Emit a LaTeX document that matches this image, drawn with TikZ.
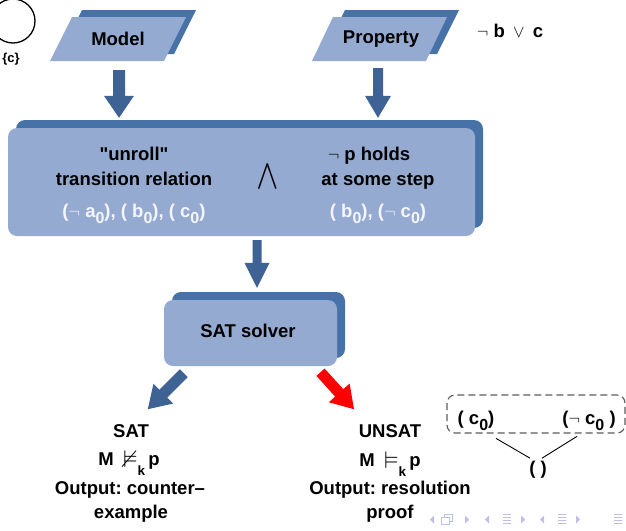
\documentclass[tikz,border=0pt]{standalone}
\usepackage{amssymb}
\usepackage{fontspec}
\setmainfont{Liberation Sans}[Ligatures=TeXOff]
\usetikzlibrary{calc,shadows}

\definecolor{boxfill}{RGB}{149,170,209}
\definecolor{boxshade}{RGB}{70,114,168}
\definecolor{arrowblue}{RGB}{62,98,148}
\definecolor{softwhite}{RGB}{244,246,252}
\definecolor{navgray}{RGB}{188,192,230}
\definecolor{dashgray}{RGB}{90,90,90}

% lowered indices
\newcommand{\sub}[1]{\raisebox{-6pt}{\fontsize{16}{16}\selectfont #1}}
\newcommand{\ksub}[1]{\raisebox{-10pt}{\fontsize{13.5}{13.5}\selectfont #1}}
% enlarged satisfaction relations
\newcommand{\bigsym}[1]{\raisebox{-2pt}{\scalebox{1.3}{$#1$}}}
\newcommand{\nott}{$\neg$}

% block arrow: colour, tail, tip, shaft half width, head half width, head length
\newcommand{\blockarrow}[6]{%
  \fill[#1] let \p1=(#2), \p2=(#3),
    \n1={atan2(\y2-\y1,\x2-\x1)}, \n2={veclen(\x2-\x1,\y2-\y1)} in
    {[shift={(\p1)}, rotate=\n1]
      (0,{-#4}) -- ({\n2-#6},{-#4}) -- ({\n2-#6},{-#5}) -- (\n2,0)
      -- ({\n2-#6},{#5}) -- ({\n2-#6},{#4}) -- (0,{#4}) -- cycle};
}

\begin{document}
\frenchspacing
\begin{tikzpicture}[x=1pt,y=-1pt,
  lbl/.style={font=\fontsize{18.5}{26}\selectfont\bfseries, inner sep=0pt},
  wlbl/.style={lbl, text=softwhite},
  roundbox/.style={fill=boxfill, rounded corners=9pt, inner sep=0pt,
    copy shadow={shadow xshift=8pt, shadow yshift=8pt, fill=boxshade, draw=none}},
  navmark/.style={fill=navgray, draw=none}]
\useasboundingbox (0,0) rectangle (626,530);

% initial state
\node[circle, draw, line width=1.3pt, minimum size=44pt, inner sep=0pt] (state) at (13,21) {};
\node[font=\fontsize{13}{13}\selectfont\bfseries, inner sep=0pt] (statelbl) at (11,59) {\{c\}};

% input parallelograms
\fill[boxshade] (60,54) -- (82,10) -- (196,10) -- (174,54) -- cycle;
\fill[boxfill] (50,61) -- (72,17) -- (186,17) -- (164,61) -- cycle;
\node[lbl] (model) at (118,39) {Model};

\fill[boxshade] (323,54) -- (345,10) -- (459,10) -- (437,54) -- cycle;
\fill[boxfill] (312,61) -- (333,17) -- (447,17) -- (426,61) -- cycle;
\node[lbl] (prop) at (381,39) {Property};

\node[lbl, anchor=base] (propf) at (510,37) {\nott\ b \,$\vee$\, c};

% encoding box
\node[roundbox, minimum width=467pt, minimum height=108pt] (enc) at (241.5,182) {};
\node[lbl, anchor=base] (unroll) at (134,160) {"unroll"};
\node[lbl, anchor=base] (trans) at (134,185) {transition relation};
\node[wlbl, anchor=base] (init) at (134,217) {(\nott\ a\sub{0}), ( b\sub{0}), ( c\sub{0})};
\node[lbl] (conj) at (268,176) {$\displaystyle\bigwedge$};
\node[lbl, anchor=base] (neg) at (369,160) {\nott\ p holds};
\node[lbl, anchor=base] (step) at (378,185) {at some step};
\node[wlbl, anchor=base] (bad) at (378,217) {( b\sub{0}), (\nott\ c\sub{0})};

% solver
\node[roundbox, minimum width=173pt, minimum height=66pt] (sat) at (250.5,333) {};
\node[lbl] (satlbl) at (248,331) {SAT solver};

% arrows between stages
\blockarrow{arrowblue}{$(model.center)+(1,31)$}{$(enc.north)+(-122.5,-10)$}{6}{15}{22}
\blockarrow{arrowblue}{$(prop.center)+(-3,29)$}{$(enc.north)+(136.5,-10)$}{5}{13}{22}
\blockarrow{arrowblue}{$(enc.south)+(15.5,4)$}{$(sat.north)+(6.5,-12)$}{4.5}{12.5}{25}
\blockarrow{arrowblue}{$(sat.south west)+(20,7)$}{$(sat.south west)+(-16,43)$}{5.5}{14}{22}
\blockarrow{red}{$(sat.south)+(70,6)$}{$(sat.south)+(103.5,43)$}{5.5}{14}{22}

% SAT outcome
\node[lbl, anchor=base] (satres) at (131,437) {SAT};
\node[lbl, anchor=base] (satrel) at (129,465) {M\hspace{0.5em}\bigsym{\nvDash}\ksub{k}\,p};
\node[lbl, anchor=base] (satout) at (130,494) {Output: counter–};
\node[lbl, anchor=base] (satex) at (131,518) {example};

% UNSAT outcome
\node[lbl, anchor=base] (unsatres) at (390,437) {UNSAT};
\node[lbl, anchor=base] (unsatrel) at (390,466) {M\hspace{0.5em}\bigsym{\vDash}\ksub{k}\,p};
\node[lbl, anchor=base] (unsatout) at (390,494) {Output: resolution};
\node[lbl, anchor=base] (unsatpf) at (390,518) {proof};

% resolution step
\draw[dashgray, dashed, dash pattern=on 7pt off 4pt, line width=1.1pt, rounded corners=8pt]
  (447,395) rectangle (625,433);
\node[lbl, anchor=base] (cpos) at (476,424) {( c\sub{0})};
\node[lbl, anchor=base] (cneg) at (589,424) {(\nott\ c\sub{0} )};
\node[lbl] (empty) at (538,470) {( )};
\draw[line width=0.9pt] ($(cpos.south)+(20,8)$) -- ($(empty.north)+(-8,-3)$);
\draw[line width=0.9pt] ($(cneg.south)+(-12,6)$) -- ($(empty.north)+(4,-3)$);

% navigation symbols
\foreach \xx in {432,487,542}
  \fill[navmark] (\xx+2,515.5) -- (\xx-2,519.5) -- (\xx+2,523.5) -- cycle;
\foreach \xx in {467,523,578}
  \fill[navmark] (\xx-2,515.5) -- (\xx+2,519.5) -- (\xx-2,523.5) -- cycle;
\draw[navgray, line width=1pt, fill=white] (444,514) rectangle (452,521);
\draw[navgray, line width=1pt, fill=white] (441,517) rectangle (449,524);
\foreach \xx in {507,562,618}
  \foreach \yy in {514,517,520,523}
    \draw[navgray, line width=1pt] (\xx-4,\yy) -- (\xx+4,\yy);
\end{tikzpicture}
\end{document}
